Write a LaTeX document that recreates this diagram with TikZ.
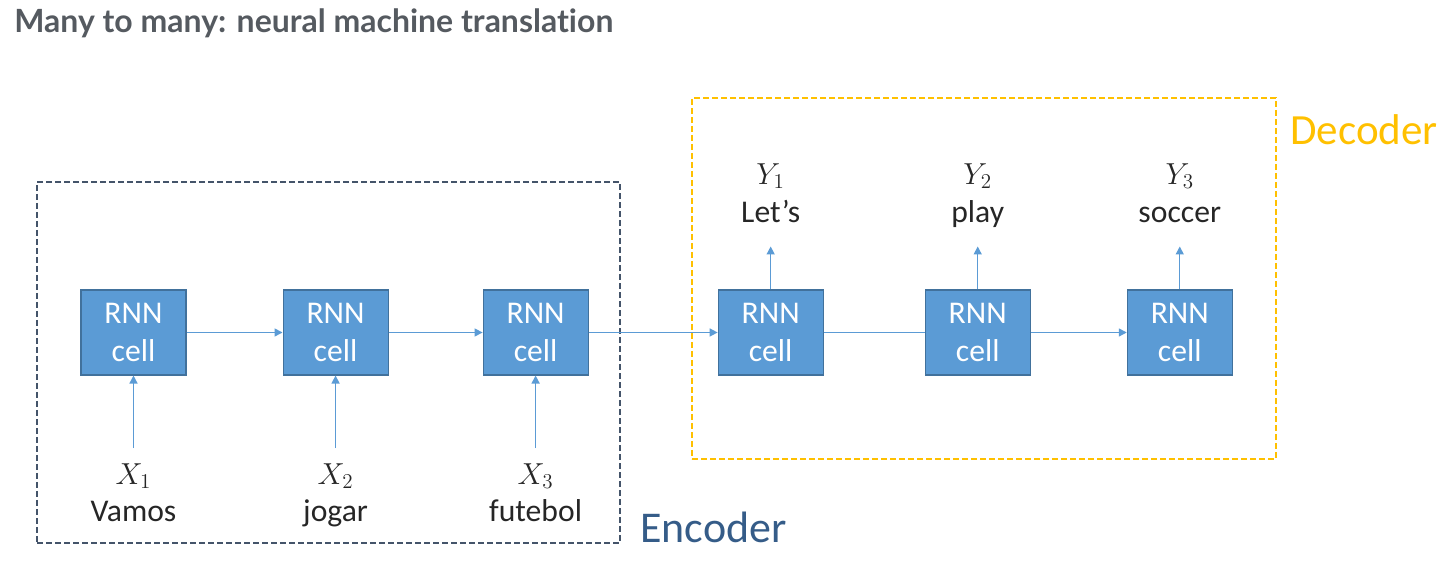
\documentclass[tikz,border=0pt]{standalone}
\usepackage{fontspec}
\setmainfont{Carlito}
\newfontfamily\titlefont[Ligatures=NoCommon]{Lato}
\usepackage{xcolor}
\usetikzlibrary{arrows.meta, positioning}
\definecolor{cellblue}{HTML}{5B9BD5}
\definecolor{celledge}{HTML}{41719C}
\definecolor{encgray}{HTML}{44546A}
\definecolor{enctext}{HTML}{355C88}
\definecolor{decgold}{HTML}{FFC000}
\definecolor{titlegray}{HTML}{555A60}
\newcommand{\sym}[1]{{\fontsize{17.5}{21.5}\selectfont$#1$}}

\begin{document}
\begin{tikzpicture}[
  cell/.style = {rectangle, draw=celledge, fill=cellblue, line width=0.6pt, minimum width=2.1cm, minimum height=1.7cm, text=white, align=center, font=\fontsize{18}{21.5}\selectfont},
  arrow/.style = {-{Triangle[length=1.6mm, width=1.6mm]}, draw=cellblue, line width=0.8pt},
  link/.style = {draw=cellblue, line width=0.8pt},
  word/.style = {align=center, inner sep=0pt, text depth=0pt, text=black!85, font=\fontsize{18}{21.5}\selectfont},
  group/.style = {rectangle, line width=0.8pt, dash pattern=on 1.2mm off 0.6mm},
  node distance=1.92cm
]
\useasboundingbox (0,0) rectangle (28.88,-11.3);

\node[anchor=base west, inner sep=0pt, text=titlegray, font=\titlefont\bfseries\fontsize{18.2}{22}\selectfont] (title) at (0.28,-0.66) {Many to many: neural machine translation};

% encoder and decoder frames
\node[group, draw=encgray, minimum width=11.66cm, minimum height=7.22cm] (encbox) at (6.57,-7.25) {};
\node[group, draw=decgold, minimum width=11.68cm, minimum height=7.22cm] (decbox) at (19.68,-5.57) {};
\node[anchor=base west, inner sep=0pt, text=enctext, font=\fontsize{25}{30}\selectfont] (enclabel) at (12.8,-10.86) {Encoder};
\node[anchor=base west, inner sep=0pt, text=decgold, font=\fontsize{24.5}{30}\selectfont] (declabel) at (25.8,-2.9) {Decoder};

% cells
\node[cell] (enc1) at (2.67,-6.65) {RNN\\cell};
\node[cell, right=1.92cm of enc1] (enc2) {RNN\\cell};
\node[cell, right=1.88cm of enc2] (enc3) {RNN\\cell};
\node[cell, right=2.58cm of enc3] (dec1) {RNN\\cell};
\node[cell, right=2.02cm of dec1] (dec2) {RNN\\cell};
\node[cell, right=1.92cm of dec2] (dec3) {RNN\\cell};

% words
\node[word, below=1.75cm of enc1] (in1) {\sym{X_1}\\Vamos};
\node[word, below=1.75cm of enc2] (in2) {\sym{X_2}\\jogar};
\node[word, below=1.75cm of enc3] (in3) {\sym{X_3}\\futebol};
\node[word, above=1.34cm of dec1] (out1) {\sym{Y_1}\\Let's};
\node[word, above=1.34cm of dec2] (out2) {\sym{Y_2}\\play};
\node[word, above=1.34cm of dec3] (out3) {\sym{Y_3}\\soccer};

\draw[arrow] (enc1) -- (enc2);
\draw[arrow] (enc2) -- (enc3);
\draw[arrow] (enc3) -- (dec1);
\draw[link] (dec1) -- (dec2);
\draw[arrow] (dec2) -- (dec3);

\draw[arrow, shorten <=0.3cm] (in1) -- (enc1);
\draw[arrow, shorten <=0.3cm] (in2) -- (enc2);
\draw[arrow, shorten <=0.3cm] (in3) -- (enc3);
\draw[arrow, shorten >=0.48cm] (dec1) -- (out1);
\draw[arrow, shorten >=0.48cm] (dec2) -- (out2);
\draw[arrow, shorten >=0.48cm] (dec3) -- (out3);

\end{tikzpicture}
\end{document}
